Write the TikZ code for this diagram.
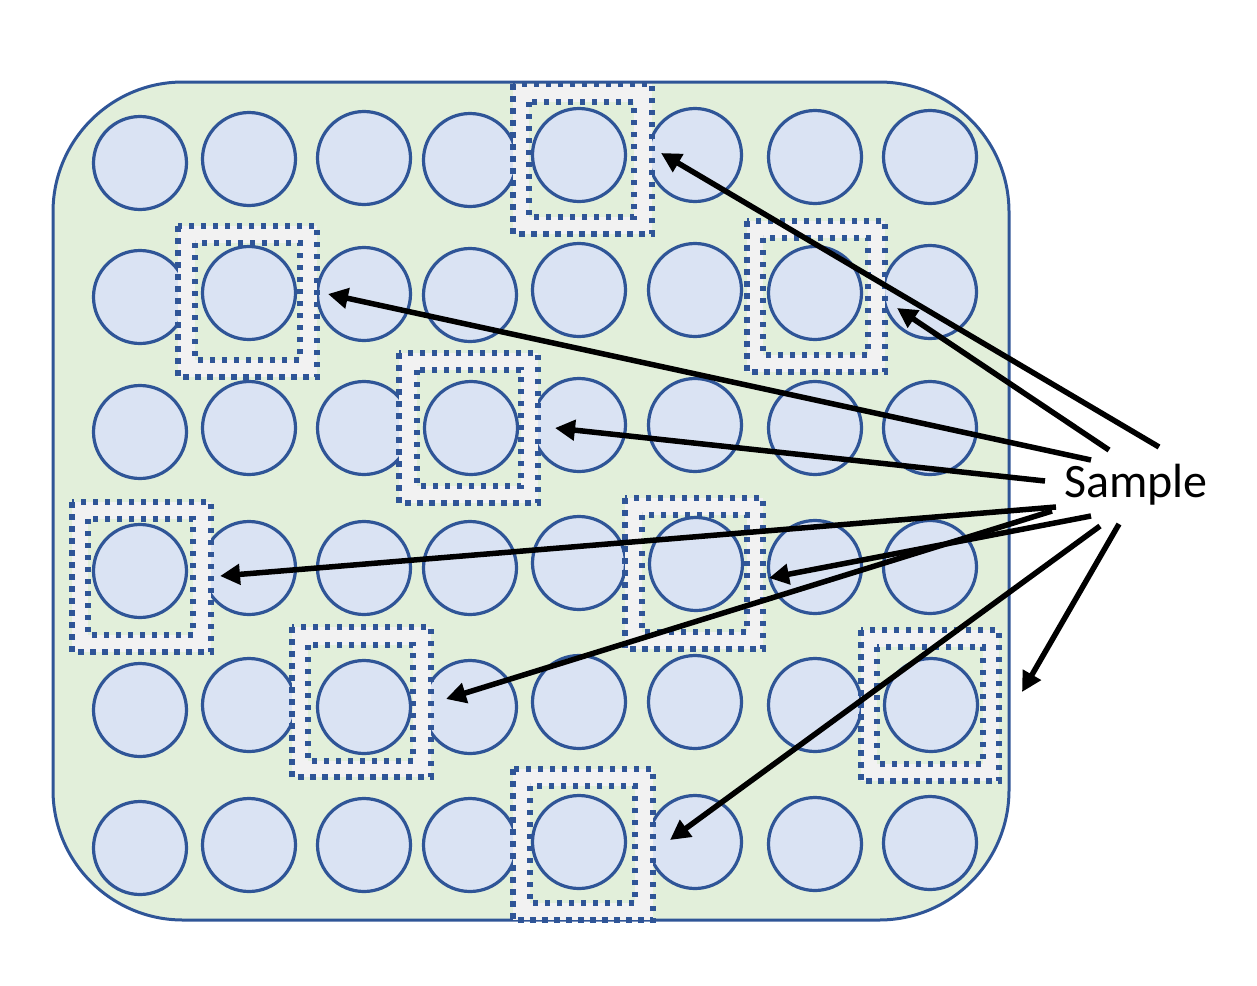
\documentclass[tikz,border=0pt]{standalone}
\usepackage{fontspec}
\setmainfont{Carlito}
\usetikzlibrary{arrows.meta}
\definecolor{bgreen}{HTML}{E2EFDA}
\definecolor{dblue}{HTML}{2F5597}
\definecolor{cfill}{HTML}{DAE3F3}
\definecolor{gband}{HTML}{F2F2F2}
\tikzset{
  plate/.style={draw=dblue, line width=3pt, fill=bgreen, rounded corners=130pt},
  well/.style={circle, draw=dblue, line width=3.2pt, fill=cfill, minimum size=93pt, inner sep=0pt},
  outerbox/.style={draw=dblue, fill=gband, line width=6pt, dash pattern=on 5.5pt off 6.5pt},
  innerbox/.style={draw=dblue, fill=bgreen, line width=5.5pt, dash pattern=on 5pt off 7pt},
  arr/.style={draw=black, line width=5.5pt, -{Triangle[length=20pt,width=20pt]}},
  lbl/.style={font=\fontsize{48}{58}\selectfont, inner sep=0pt}
}
\begin{document}
\begin{tikzpicture}[x=1pt,y=-1pt]
\useasboundingbox (0,0) rectangle (1257,985);
% plate
\path[plate] (53,82) rectangle (1009,920);
% all wells
\foreach \r/\ys in {1/{163,159,158,160,155,155,157,157},
                    2/{297,293,294,295,290,290,293,292},
                    3/{432,428,428,428,425,425,428,428},
                    4/{571,568,568,568,563,564,567,567},
                    5/{710,705,707,707,702,702,705,705},
                    6/{848,845,845,845,842,842,844,843}}{
  \foreach \x [count=\c] in {140,249,364,470,579,695,815,930}{
    \pgfmathsetmacro{\yy}{{\ys}[\c-1]}
    \node[well] (w-\r-\c) at (\x,\yy) {};
  }
}
% sampled wells: outer box, inner box, well again
\foreach \i/\oxa/\oya/\oxb/\oyb/\ixa/\iya/\ixb/\iyb/\cx/\cy in {
  1/513/84/652/234/529/102/634/217/579/155,
  2/178/226/317/377/195/243/300/360/249/293,
  3/399/353/538/503/417/370/521/486/471/428,
  4/747/221/885/372/763/238/868/355/815/293,
  5/72/502/211/652/88/519/193/635/140/571,
  6/625/498/763/649/642/515/747/632/696/564,
  7/292/627/431/777/308/645/413/761/364/707,
  8/861/630/999/781/877/647/983/764/931/705,
  9/513/769/653/920/530/786/635/903/579/842}{
  \path[outerbox] (\oxa,\oya) rectangle (\oxb,\oyb);
  \path[innerbox] (\ixa,\iya) rectangle (\ixb,\iyb);
  \node[well] (s-\i) at (\cx,\cy) {};
}
% label
\node[lbl, anchor=base west] (sample) at (1064,497) {Sample};
% arrow ends
\coordinate (a1) at (1159,447); \coordinate (b1) at (661,153);
\coordinate (a2) at (1109,450); \coordinate (b2) at (897,308);
\coordinate (a3) at (1091,460); \coordinate (b3) at (328,294);
\coordinate (a4) at (1045,481); \coordinate (b4) at (555,428);
\coordinate (a5) at (1056,507); \coordinate (b5) at (220,576);
\coordinate (a6) at (1091,516); \coordinate (b6) at (769,578);
\coordinate (a7) at (1052,511); \coordinate (b7) at (446,699);
\coordinate (a8) at (1100,526); \coordinate (b8) at (670,840);
\coordinate (a9) at (1119,524); \coordinate (b9) at (1022,692);
\foreach \k in {1,...,9}{
  \draw[arr] (a\k) -- (b\k);
}
\end{tikzpicture}
\end{document}
